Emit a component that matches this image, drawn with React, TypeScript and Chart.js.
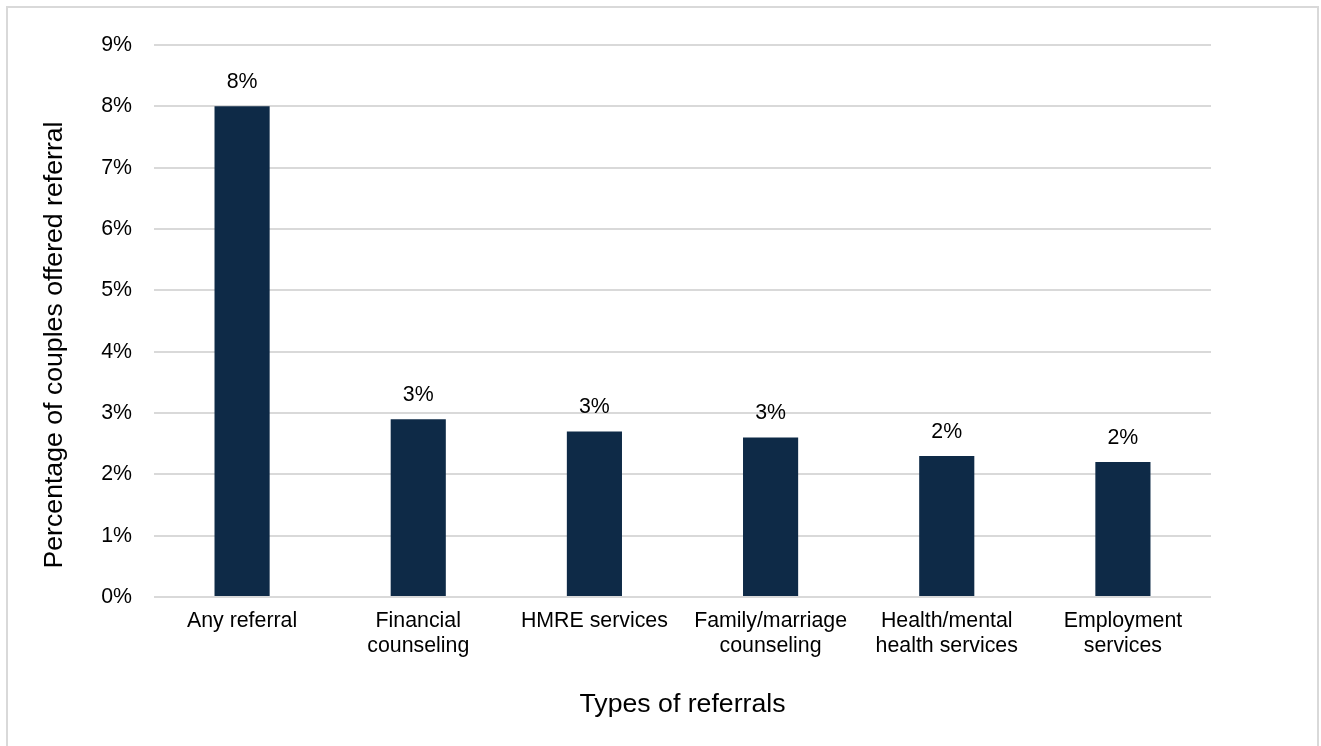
import React, { useEffect, useRef } from "react";
import { Chart, registerables } from "chart.js";

Chart.register(...registerables);

const categories: (string | string[])[] = [
  "Any referral",
  ["Financial", "counseling"],
  "HMRE services",
  ["Family/marriage", "counseling"],
  ["Health/mental", "health services"],
  ["Employment", "services"],
];
const values: number[] = [8.0, 2.9, 2.7, 2.6, 2.3, 2.2];
const yTitle = "Percentage of couples offered referral";
const xTitle = "Types of referrals";

const FONT = "'Liberation Sans', Arial, sans-serif";
const SMALL = 21.33;
const BIG = 26.67;

export default function App() {
  const ref = useRef<HTMLCanvasElement | null>(null);
  useEffect(() => {
    if (!ref.current) return;
    const labelPlugin = {
      id: "barLabels",
      afterDatasetsDraw(chart: any) {
        const ctx = chart.ctx;
        const meta = chart.getDatasetMeta(0);
        ctx.save();
        ctx.font = `${SMALL}px ${FONT}`;
        ctx.fillStyle = "#000";
        ctx.textAlign = "center";
        ctx.textBaseline = "middle";
        meta.data.forEach((bar: any, i: number) => {
          ctx.fillText(Math.round(values[i]) + "%", bar.x, bar.y - 24);
        });
        ctx.restore();
        // y axis title, positioned like the reference (slightly below plot centre)
        const ca = chart.chartArea;
        ctx.save();
        ctx.font = `${BIG}px ${FONT}`;
        ctx.fillStyle = "#000";
        ctx.textAlign = "center";
        ctx.textBaseline = "middle";
        ctx.translate(55, (ca.top + ca.bottom) / 2 + 24);
        ctx.rotate(-Math.PI / 2);
        ctx.fillText(yTitle, 0, 0);
        ctx.restore();
      },
    };
    const chart = new Chart(ref.current, {
      type: "bar",
      data: {
        labels: categories,
        datasets: [
          {
            data: values,
            backgroundColor: "#0e2a47",
            barPercentage: 0.313,
            categoryPercentage: 1,
          },
        ],
      },
      options: {
        animation: false,
        responsive: false,
        maintainAspectRatio: false,
        layout: { padding: { left: 0, right: 110, top: 45, bottom: 0 } },
        plugins: { legend: { display: false }, tooltip: { enabled: false } },
        scales: {
          x: {
            grid: { display: false, drawTicks: false },
            border: { display: false },
            ticks: {
              color: "#000",
              font: { family: FONT, size: SMALL, lineHeight: 1.17 },
              padding: 12,
              maxRotation: 0,
              autoSkip: false,
            },
            title: {
              display: true,
              text: xTitle,
              color: "#000",
              font: { family: FONT, size: BIG },
              padding: { top: 0, bottom: 25 },
            },
            afterFit: (scale: any) => {
              scale.height = 149;
            },
          },
          y: {
            min: 0,
            max: 9,
            grid: { color: "#d9d9d9", lineWidth: 2, drawTicks: false },
            border: { display: false },
            ticks: {
              stepSize: 1,
              color: "#000",
              font: { family: FONT, size: SMALL },
              padding: 22,
              callback: (v: any) => v + "%",
            },
            title: { display: false },
            afterFit: (scale: any) => {
              scale.width = 154;
            },
          },
        },
      },
      plugins: [labelPlugin],
    });
    return () => chart.destroy();
  }, []);
  return (
    <div style={{ position: "fixed", left: 0, top: 0, width: 1321, height: 746, overflow: "hidden", background: "#fff" }}>
      <div
        style={{
          position: "absolute",
          left: 6,
          top: 6,
          width: 1313,
          height: 800,
          border: "2px solid #d9d9d9",
          boxSizing: "border-box",
        }}
      />
      <canvas ref={ref} width={1321} height={746} style={{ position: "absolute", left: 0, top: 0 }} />
    </div>
  );
}
